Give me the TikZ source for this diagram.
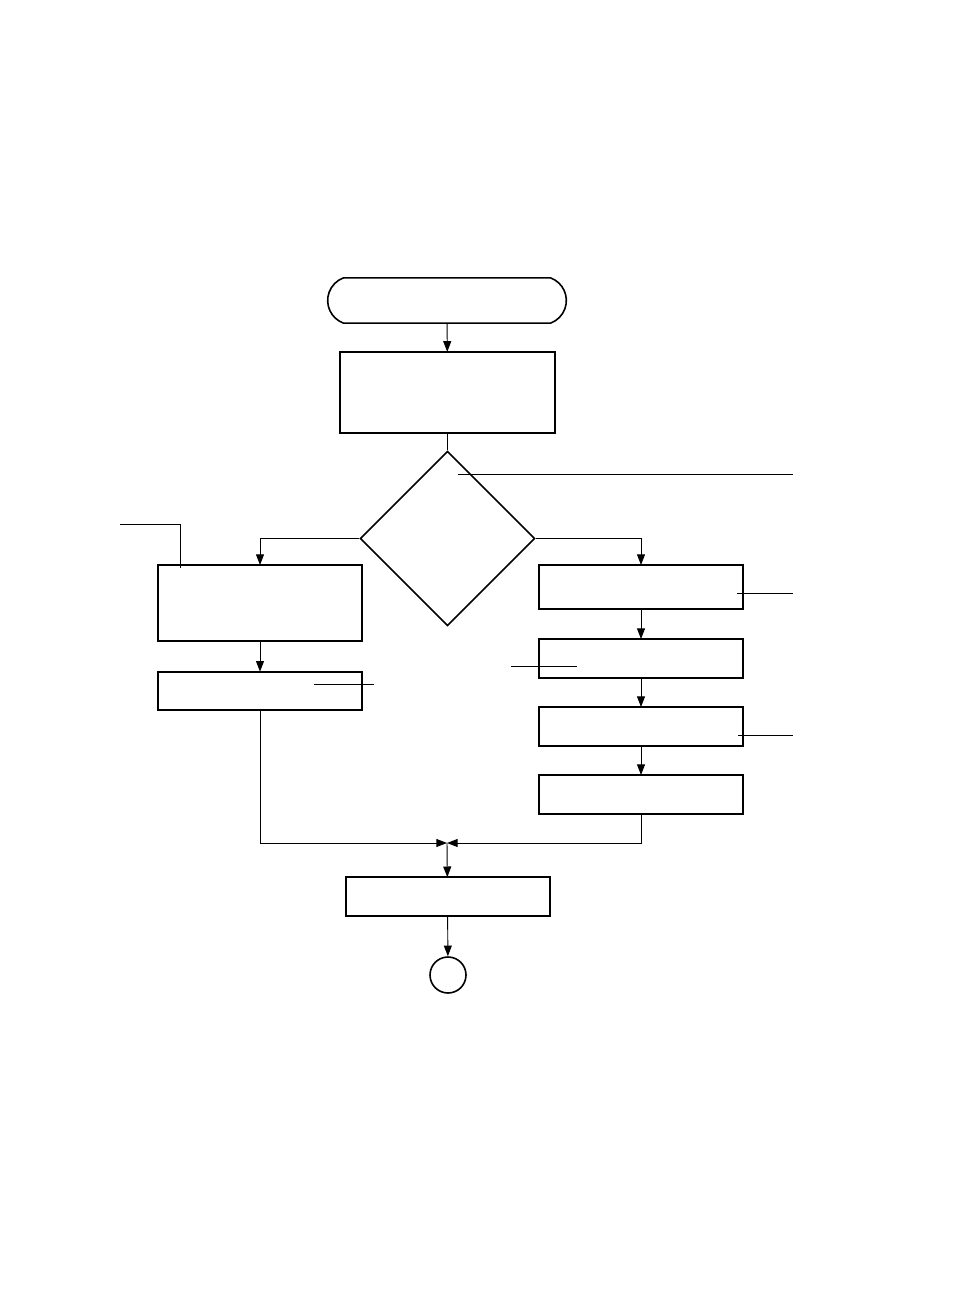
\documentclass[tikz,border=0pt]{standalone}
\usepackage{tikz}
\usetikzlibrary{arrows.meta, positioning, shapes.geometric, shapes.misc}

\begin{document}
\begin{tikzpicture}[
  x=0.75pt, y=-0.75pt,
  node distance = 22pt and 0pt,
  box/.style     = {draw, line width=1.5pt, inner sep=0pt, outer sep=0pt,
                    minimum width=153pt, minimum height=29pt},
  termbox/.style = {draw, line width=1.2pt, rounded rectangle,
                    rounded rectangle arc length=140, inner sep=0pt,
                    minimum width=179pt, minimum height=34pt},
  decbox/.style  = {draw, line width=1.2pt, diamond, inner sep=0pt,
                    minimum width=131pt, minimum height=131pt},
  endbox/.style  = {draw, line width=1.2pt, circle, inner sep=0pt,
                    minimum size=27pt},
  arr/.style     = {-{Triangle[length=8pt, width=6pt]}, line width=0.7pt},
  conn/.style    = {line width=0.7pt},
  note/.style    = {line width=0.7pt}
]
\useasboundingbox (0,0) rectangle (954,1306);

%% ---- TOP ----
\node[termbox] (start) at (447,300.5) {};
\node[box, minimum width=161pt, minimum height=61pt] (init) at (447.5,392.5) {};
\node[decbox] (check) at (447.5,538.5) {};

\draw[arr]  (start) -- (init);
\draw[conn] (init) -- (check);

%% ---- LEFT BRANCH ----
\node[box, minimum height=57pt] (left1) at (260,603) {};
\node[box, below=23pt of left1] (left2) {};

\draw[arr] (check.west) -| (left1.north);
\draw[arr] (left1) -- (left2);

%% ---- RIGHT BRANCH ----
\node[box, minimum height=33pt] (right1) at (641,587) {};
\node[box, below=22.5pt of right1] (right2) {};
\node[box, below=22pt of right2]   (right3) {};
\node[box, below=22pt of right3]   (right4) {};

\draw[arr] (check.east) -| (right1.north);
\draw[arr] (right1) -- (right2);
\draw[arr] (right2) -- (right3);
\draw[arr] (right3) -- (right4);

%% ---- MERGE ----
\coordinate (merge) at (447,843);
\node[box] (final) at (447.5,896.5) {};
\node[endbox] (stop) at (448,975) {};

\draw[arr] (left2.south) |- (merge);
\draw[arr] (right4.south) |- (merge);
\draw[arr] (merge) -- (final);
\draw[arr] (final) -- (stop);

% leader lines
\coordinate (n1) at (458,474);   \coordinate (n1e) at (793,474);
\coordinate (n2) at (180,568);   \coordinate (n2e) at (120,524);
\coordinate (n3) at (737,593);   \coordinate (n3e) at (793,593);
\coordinate (n4) at (577,666);   \coordinate (n4e) at (511,666);
\coordinate (n5) at (314,684);   \coordinate (n5e) at (374,684);
\coordinate (n6) at (738,735);   \coordinate (n6e) at (793,735);
\draw[note] (n1) -- (n1e);
\draw[note] (n2) |- (n2e);
\draw[note] (n3) -- (n3e);
\draw[note] (n4) -- (n4e);
\draw[note] (n5) -- (n5e);
\draw[note] (n6) -- (n6e);

\end{tikzpicture}
\end{document}
